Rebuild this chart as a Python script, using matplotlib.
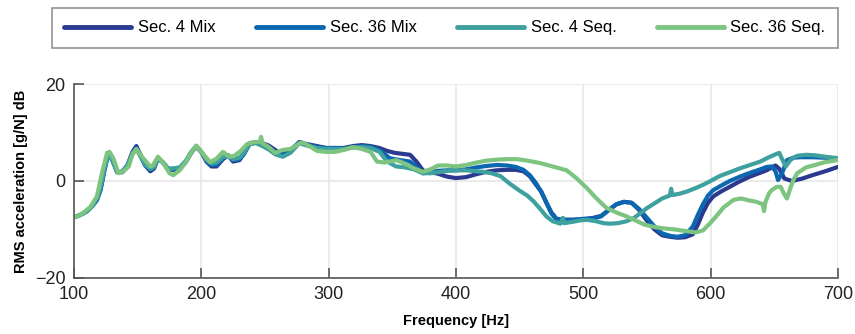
import matplotlib
matplotlib.use("Agg")
import matplotlib.pyplot as plt

plt.rcParams["font.family"] = ["Liberation Sans", "DejaVu Sans"]

# Frecuencias [Hz] y nivel RMS [dB]
f_4mix = [100, 105, 110, 114, 118, 121, 124, 127, 130, 134,
          138, 142, 146, 149, 152, 156, 160, 163, 166, 170,
          174, 178, 183, 188, 192, 196, 200, 204, 208, 212,
          217, 221, 225, 230, 234, 238, 243, 248, 253, 258,
          264, 270, 277, 283, 291, 298, 305, 312, 319, 326,
          333, 340, 346, 352, 358, 364, 369, 374, 380, 386,
          393, 400, 408, 416, 424, 432, 440, 447, 453, 458,
          463, 467, 471, 475, 479, 485, 492, 500, 508, 514,
          520, 526, 532, 538, 544, 550, 556, 562, 568, 574,
          580, 586, 590, 594, 598, 602, 608, 615, 622, 630,
          638, 644, 648, 651, 654, 658, 664, 672, 680, 690,
          700]
db_4mix = [-7.5, -7.0, -6.2, -5.2, -3.8, -1.5, 2.5, 5.8, 4.5, 1.8,
           1.8, 3.2, 6.0, 7.2, 5.5, 3.2, 2.0, 2.6, 4.8, 3.8,
           2.4, 2.3, 2.5, 4.0, 5.8, 7.2, 6.0, 4.0, 3.0, 3.0,
           4.5, 5.3, 4.0, 4.3, 5.8, 7.8, 8.0, 7.8, 7.3, 6.4,
           5.4, 6.0, 8.0, 7.6, 7.2, 6.8, 6.8, 6.8, 7.2, 7.4,
           7.2, 6.8, 6.2, 5.8, 5.6, 5.4, 4.0, 2.2, 1.8, 1.5,
           0.9, 0.6, 0.8, 1.4, 1.9, 2.2, 2.3, 2.3, 2.0, 1.0,
           -0.8, -2.2, -4.4, -6.5, -7.8, -8.0, -8.0, -7.9, -7.6, -7.2,
           -6.0, -4.8, -4.3, -4.5, -6.0, -8.2, -10.0, -11.2, -11.5, -11.7,
           -11.6, -11.0, -9.0, -6.5, -4.5, -3.2, -2.2, -1.2, -0.2, 0.8,
           1.6, 2.2, 2.8, 3.2, 2.5, 0.5, 0.0, 0.5, 1.2, 2.0,
           2.9]

f_36mix = [100, 105, 110, 114, 118, 121, 124, 127, 130, 134,
           138, 142, 146, 149, 152, 156, 160, 163, 166, 170,
           174, 178, 183, 188, 192, 196, 200, 204, 208, 212,
           217, 221, 225, 230, 234, 238, 243, 248, 253, 258,
           264, 270, 277, 283, 291, 298, 305, 312, 319, 326,
           333, 340, 348, 356, 364, 369, 374, 380, 386, 393,
           400, 408, 416, 424, 432, 440, 447, 453, 458, 463,
           467, 471, 475, 479, 485, 492, 500, 508, 514, 520,
           526, 532, 538, 544, 550, 556, 562, 568, 574, 580,
           586, 590, 594, 598, 602, 608, 615, 623, 630, 638,
           644, 648, 651, 653, 656, 660, 665, 670, 680, 690,
           700]
db_36mix = [-7.5, -7.0, -6.3, -5.3, -4.0, -1.8, 2.2, 5.6, 4.5, 1.8,
            1.9, 3.2, 5.8, 6.8, 5.3, 3.2, 2.3, 2.8, 4.7, 3.8,
            2.4, 2.5, 2.6, 4.0, 5.8, 7.1, 6.0, 4.2, 3.3, 3.3,
            4.7, 5.3, 4.3, 4.5, 5.8, 7.6, 8.0, 7.6, 7.0, 6.0,
            5.6, 6.4, 8.0, 7.5, 7.0, 6.8, 6.8, 6.8, 7.0, 7.2,
            7.0, 6.4, 4.7, 4.3, 4.0, 3.0, 1.6, 1.8, 2.1, 2.2,
            2.2, 2.4, 2.8, 3.1, 3.3, 3.2, 2.9, 2.3, 1.2, -0.5,
            -2.2, -4.5, -6.7, -7.9, -8.0, -8.0, -7.8, -7.7, -7.3, -6.0,
            -4.8, -4.3, -4.5, -5.8, -7.6, -9.4, -10.8, -11.3, -11.5, -11.2,
            -9.4, -7.0, -4.8, -3.0, -1.9, -1.0, 0.0, 0.9, 1.6, 2.3,
            2.9, 3.0, 2.0, 0.2, 1.5, 4.3, 4.8, 4.9, 4.9, 4.8,
            4.6]

f_4seq = [100, 105, 110, 114, 118, 121, 124, 127, 130, 134,
          138, 142, 146, 149, 152, 156, 160, 163, 166, 170,
          174, 178, 183, 188, 192, 196, 200, 204, 208, 212,
          217, 221, 225, 230, 234, 238, 243, 248, 253, 258,
          264, 270, 277, 283, 291, 298, 305, 312, 319, 326,
          333, 340, 346, 353, 360, 367, 374, 380, 386, 393,
          400, 408, 416, 421, 428, 435, 442, 450, 456, 461,
          466, 471, 476, 482, 484, 485, 492, 498, 503, 510,
          516, 521, 527, 534, 540, 545, 550, 556, 562, 568,
          569, 570, 576, 581, 588, 594, 600, 607, 615, 623,
          631, 639, 645, 651, 654, 656, 659, 663, 668, 675,
          682, 690, 700]
db_4seq = [-7.5, -7.0, -6.3, -5.2, -3.6, -1.2, 2.8, 5.6, 4.2, 1.8,
           2.0, 3.3, 5.7, 6.6, 5.2, 3.3, 2.5, 2.9, 4.6, 3.8,
           2.6, 2.6, 2.8, 4.2, 6.0, 7.0, 6.0, 4.3, 3.6, 3.8,
           4.9, 5.2, 4.5, 4.8, 6.0, 7.6, 7.8, 7.2, 6.5, 5.5,
           5.0, 5.8, 7.8, 7.3, 6.8, 6.6, 6.6, 6.6, 6.9, 7.0,
           6.8, 6.0, 4.0, 3.0, 2.8, 2.4, 1.6, 1.6, 1.8, 2.1,
           2.2, 2.2, 2.0, 1.9, 1.6, 1.0, -0.5, -2.0, -3.0, -4.2,
           -5.7, -7.3, -8.3, -8.8, -7.6, -8.7, -8.4, -8.1, -8.0, -8.3,
           -8.7, -8.8, -8.7, -8.3, -7.6, -6.6, -5.6, -4.6, -3.6, -3.0,
           -1.6, -2.9, -2.6, -2.2, -1.5, -0.8, 0.0, 1.0, 1.8, 2.6,
           3.3, 4.0, 4.8, 5.5, 5.8, 4.6, 3.0, 4.4, 5.2, 5.4,
           5.3, 5.0, 4.7]

f_36seq = [100, 105, 110, 113, 118, 122, 126, 128, 131, 135,
           139, 143, 146, 149, 154, 160, 162, 166, 170, 175,
           178, 183, 188, 192, 196, 201, 207, 212, 217, 222,
           226, 231, 236, 241, 246, 247, 248, 253, 258, 264,
           270, 279, 285, 291, 298, 305, 312, 319, 326, 333,
           338, 344, 353, 360, 367, 374, 380, 386, 393, 400,
           408, 416, 424, 432, 440, 448, 456, 466, 476, 487,
           495, 503, 510, 518, 526, 533, 540, 548, 556, 564,
           572, 580, 588, 594, 600, 606, 610, 614, 618, 624,
           630, 636, 641, 642, 643, 646, 648, 652, 655, 658,
           660, 662, 665, 668, 675, 682, 690, 700]
db_36seq = [-7.5, -7.0, -6.0, -5.3, -3.2, 1.6, 5.8, 6.0, 4.6, 1.6,
            2.0, 3.0, 5.5, 6.6, 4.8, 3.0, 3.2, 5.0, 3.8, 1.6,
            1.2, 2.2, 3.9, 5.8, 7.3, 5.7, 3.9, 4.6, 6.0, 5.0,
            5.2, 6.2, 7.6, 8.0, 8.1, 9.1, 7.8, 7.0, 5.8, 6.4,
            6.6, 8.0, 7.2, 6.2, 6.0, 6.0, 6.4, 7.0, 6.6, 6.0,
            4.0, 3.8, 4.3, 3.6, 2.6, 1.9, 2.4, 3.2, 3.2, 3.0,
            3.3, 3.8, 4.2, 4.4, 4.5, 4.5, 4.2, 3.7, 3.0, 2.2,
            0.5, -1.5, -3.5, -5.5, -6.5, -7.2, -8.0, -9.0, -9.5, -9.8,
            -10.0, -10.3, -10.6, -10.2, -8.6, -6.8, -5.5, -4.7, -3.9, -3.6,
            -4.0, -4.3, -4.8, -6.2, -4.4, -2.5, -1.9, -1.2, -1.2, -2.8,
            -3.6, -2.0, 0.2, 1.6, 2.8, 3.3, 3.9, 4.3]

series_labels = ["Sec. 4 Mix", "Sec. 36 Mix", "Sec. 4 Seq.", "Sec. 36 Seq."]
series_colors = ["#2b3a8f", "#0b67b0", "#3fa0a0", "#7cc47f"]

x_ticks = [100, 200, 300, 400, 500, 600, 700]
y_ticks = [-20, 0, 20]


def plot_rms(output_path):
    fig = plt.figure(figsize=(8.55, 3.34), dpi=100)
    ax = fig.add_axes([0.0865, 0.1677, 0.8935, 0.5808])

    datos = [(f_4mix, db_4mix), (f_36mix, db_36mix),
             (f_4seq, db_4seq), (f_36seq, db_36seq)]
    for (f, db), lab, col in zip(datos, series_labels, series_colors):
        ax.plot(f, db, color=col, lw=3.0, label=lab,
                solid_joinstyle="round", solid_capstyle="round")

    ax.set_xlim(100, 700)
    ax.set_ylim(-20, 20)
    ax.set_xticks(x_ticks)
    ax.set_yticks(y_ticks)
    ax.grid(True, color="#e6e6e6", lw=1.2)
    ax.set_axisbelow(True)
    for s in ["top", "right"]:
        ax.spines[s].set_visible(False)
    for s in ["left", "bottom"]:
        ax.spines[s].set_color("#555555")
        ax.spines[s].set_linewidth(1.2)
    ax.tick_params(direction="in", length=7, width=1.2, color="#555555",
                   labelsize=13, labelcolor="#222222", pad=6)

    ax.set_xlabel("Frequency [Hz]", fontsize=10.5, fontweight="bold", labelpad=8)
    ax.set_ylabel("RMS acceleration [g/N] dB", fontsize=10.5,
                  fontweight="bold", labelpad=5)

    leg = ax.legend(loc="center", bbox_to_anchor=(-0.0288, 1.1856, 1.0288, 0.2062),
                    mode="expand", ncol=4, frameon=True, fancybox=False,
                    borderaxespad=0, borderpad=0.75, handlelength=4.0,
                    handletextpad=0.4, fontsize=12)
    leg.get_frame().set_edgecolor("#777777")
    leg.get_frame().set_linewidth(1.2)
    for h in leg.get_lines():
        h.set_linewidth(3.5)

    fig.savefig(output_path, dpi=100)
    plt.close()


if __name__ == "__main__":
    plot_rms("out.png")
